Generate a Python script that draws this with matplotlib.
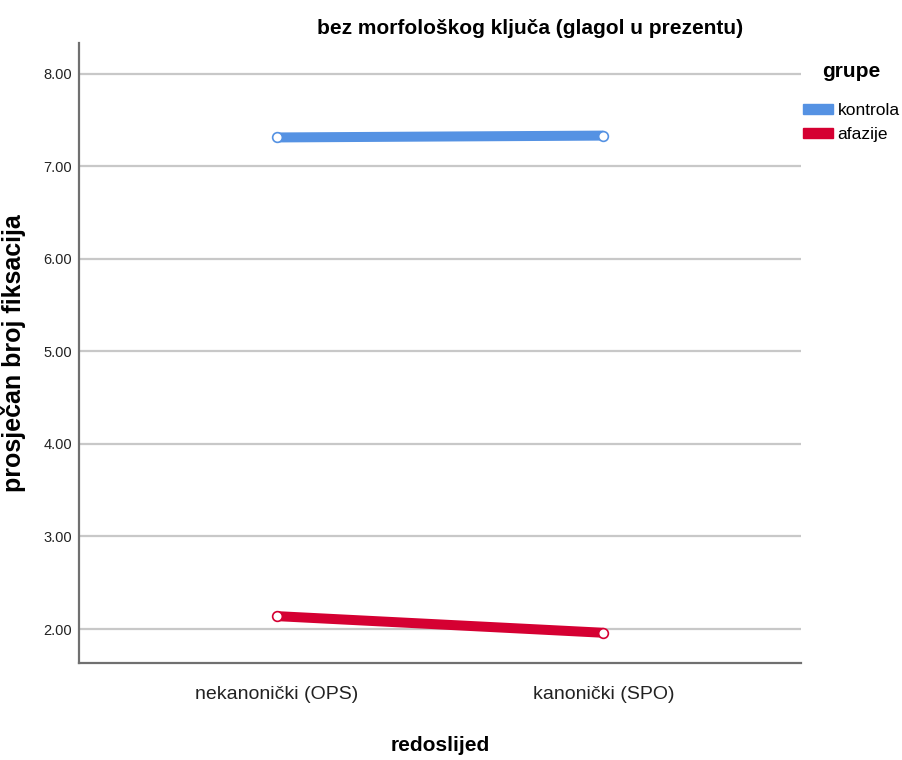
import matplotlib
matplotlib.use("Agg")
import matplotlib.pyplot as plt
from matplotlib.patches import Patch

# --- Datos ---
redoslijed = ["nekanonički (OPS)", "kanonički (SPO)"]
grupe = ["kontrola", "afazije"]
kontrola = [7.31, 7.33]
afazije = [2.14, 1.96]
boje = ["#5592E3", "#D50032"]
yticks = [2, 3, 4, 5, 6, 7, 8]

fam = ["Liberation Sans", "DejaVu Sans"]

fig = plt.figure(figsize=(9.02, 7.60), dpi=100)
ax = fig.add_axes([0.0876, 0.1272, 0.8004, 0.8162])

x = range(len(redoslijed))
for vals, col in zip([kontrola, afazije], boje):
    ax.plot(x, vals, color=col, lw=7.2, solid_capstyle="butt", zorder=3)
    ax.plot(x, vals, "o", ms=7, mfc="white", mec=col, mew=1.2, zorder=4)

ax.set_xlim(-0.604, 1.604)
ax.set_ylim(1.63, 8.33)
ax.set_yticks(yticks)
ax.set_yticklabels([f"{v:.2f}" for v in yticks], family=fam, fontsize=10.5, color="#222222")
ax.set_xticks(list(x))
ax.set_xticklabels(redoslijed, family=fam, fontsize=14, color="#222222")
ax.tick_params(axis="both", length=0)
ax.tick_params(axis="x", pad=16)
ax.tick_params(axis="y", pad=5)
ax.grid(axis="y", color="#c8c8c8", lw=1.6)
ax.set_axisbelow(True)
for s in ["top", "right"]:
    ax.spines[s].set_visible(False)
for s in ["left", "bottom"]:
    ax.spines[s].set_color("#707070")
    ax.spines[s].set_linewidth(1.6)

ax.set_ylabel("prosječan broj fiksacija", family=fam, fontsize=18, fontweight="bold")
ax.yaxis.set_label_coords(-0.073, 0.5)
ax.set_xlabel("redoslijed", family=fam, fontsize=15, fontweight="bold", labelpad=24)

fig.text(530 / 902, 1 - 28 / 760, "bez morfološkog ključa (glagol u prezentu)", family=fam,
         fontsize=15, fontweight="bold", ha="center", va="center")

handles = [Patch(color=c) for c in boje]
leg = fig.legend(handles, grupe, loc="upper left", bbox_to_anchor=(803 / 902, 1 - 62 / 760),
                 frameon=False, borderpad=0, borderaxespad=0, title="grupe",
                 handlelength=1.7, handleheight=0.5, handletextpad=0.3,
                 labelspacing=0.5, prop={"family": fam, "size": 12.5})
leg.get_title().set_fontweight("bold")
leg.get_title().set_fontsize(15)
leg.get_title().set_family(fam)
leg._legend_box.sep = 16

fig.savefig("out.png", dpi=100)
